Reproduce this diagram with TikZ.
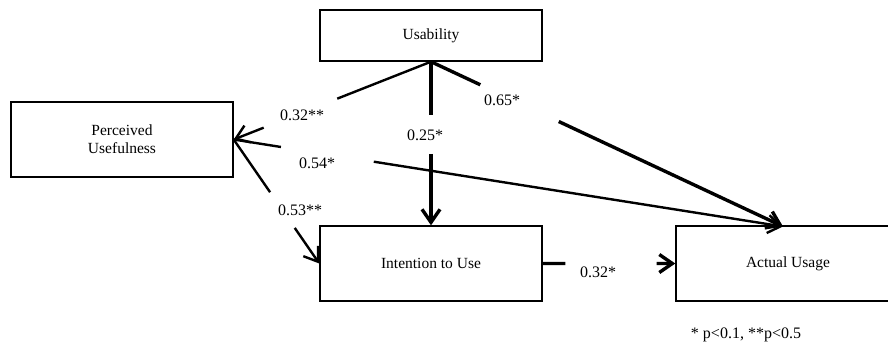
\documentclass[tikz,border=0pt]{standalone}
\usepackage{fontspec}
\setmainfont{Liberation Serif}
\usetikzlibrary{calc,arrows.meta}
\tikzset{
  box/.style={draw, line width=1.4pt, minimum width=222pt, minimum height=75pt, inner sep=0pt, align=center, font=\fontsize{15.5}{18}\selectfont},
  lbl/.style={inner sep=0pt, font=\fontsize{16}{18}\selectfont},
  thinln/.style={line width=2.4pt},
  thickln/.style={line width=3.4pt},
  tip/.style={-{Straight Barb[length=13pt,width=18pt]}}
}
\begin{document}
\begin{tikzpicture}[x=1pt,y=-1pt]
\useasboundingbox (0,0) rectangle (888,343);
\clip (0,0) rectangle (888,343);
\node[box, minimum height=51pt] (U) at (431,35.5) {Usability};
\node[box] (PU) at (122,139.5) {Perceived\\Usefulness};
\node[box] (IU) at (431,263.5) {Intention to Use};
\node[box, minimum width=224pt] (AU) at (788,263.5) {Actual Usage};
\coordinate (AUtop) at (783,226.5);

% Usability -> Perceived Usefulness
\draw[thinln] (U.south) -- ($(U.south)!0.475!(PU.east)$);
\draw[thinln,tip] ($(U.south)!0.848!(PU.east)$) -- (PU.east);
\node[lbl] (l1) at (302,115) {0.32**};

% Usability -> Intention
\draw[thickln] (U.south) -- ($(U.south)!0.327!(IU.north)$);
\draw[thickln,tip] ($(U.south)!0.564!(IU.north)$) -- (IU.north);
\node[lbl] (l2) at (425,135) {0.25*};

% Usability -> Actual Usage
\draw[thickln] (U.south) -- ($(U.south)!0.14!(AUtop)$);
\draw[thickln,tip] ($(U.south)!0.363!(AUtop)$) -- (AUtop);
\node[lbl] (l3) at (502,100) {0.65*};

% Perceived Usefulness -> Actual Usage
\draw[thinln] (PU.east) -- ($(PU.east)!0.086!(AUtop)$);
\draw[thinln,tip] ($(PU.east)!0.255!(AUtop)$) -- (AUtop);
\node[lbl] (l4) at (317,163) {0.54*};

% Perceived Usefulness -> Intention
\draw[thinln] (PU.east) -- ($(PU.east)!0.425!(IU.west)$);
\draw[thinln,tip] ($(PU.east)!0.713!(IU.west)$) -- (IU.west);
\node[lbl] (l5) at (300,210) {0.53**};

% Intention -> Actual Usage
\draw[thickln] (IU.east) -- ($(IU.east)!0.17!(AU.west)$);
\draw[thickln,tip] ($(IU.east)!0.86!(AU.west)$) -- (AU.west);
\node[lbl] (l6) at (598,272) {0.32*};

\node[lbl] (note) at (746,335) {* p<0.1, **p<0.5};
\end{tikzpicture}
\end{document}
